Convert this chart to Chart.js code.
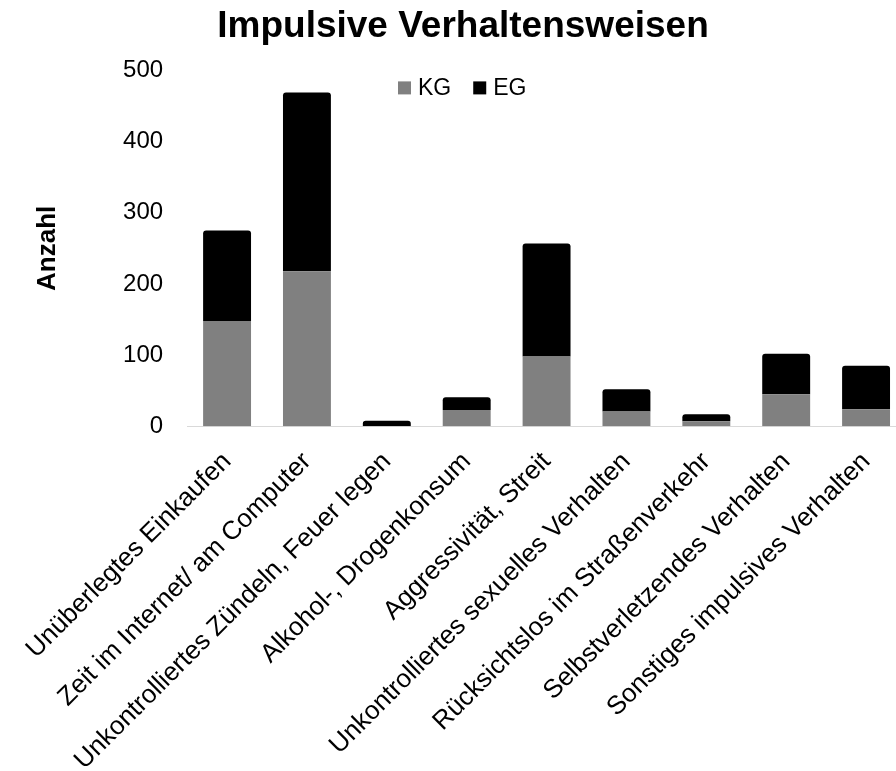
<!DOCTYPE html>
<html lang="de">
<head>
<meta charset="utf-8">
<title>Impulsive Verhaltensweisen</title>
<script src="https://cdn.jsdelivr.net/npm/chart.js@4/dist/chart.umd.min.js"></script>
<style>
  html, body { margin: 0; padding: 0; background: #fff; }
  #wrap { width: 896px; height: 771px; position: relative; }
</style>
</head>
<body>
<div id="wrap"><canvas id="chart"></canvas></div>
<script>
// Kategorien der impulsiven Verhaltensweisen
const categories = [
  'Unüberlegtes Einkaufen',
  'Zeit im Internet/ am Computer',
  'Unkontrolliertes Zündeln, Feuer legen',
  'Alkohol-, Drogenkonsum',
  'Aggressivität, Streit',
  'Unkontrolliertes sexuelles Verhalten',
  'Rücksichtslos im Straßenverkehr',
  'Selbstverletzendes Verhalten',
  'Sonstiges impulsives Verhalten'
];

// Anzahl Nennungen je Gruppe
const kgValues = [148, 218, 0, 23, 98, 21, 7, 45, 24];
const egValues = [127, 251, 8, 18, 159, 31, 10, 57, 61];

const seriesNames = ['KG', 'EG'];
const yTicks = [0, 100, 200, 300, 400, 500];

const FONT = '"Liberation Sans", Arial, Helvetica, sans-serif';

// Zeichenfläche läuft rechts über den Canvasrand hinaus
const bleedRight = {
  id: 'bleedRight',
  afterLayout(chart) {
    const extra = 10;
    const xs = chart.scales.x;
    xs.right += extra;
    xs.width += extra;
    xs.configure();
    chart.chartArea.right += extra;
    chart.chartArea.width += extra;
  }
};

// Legende innerhalb der Zeichenfläche
const innerLegend = {
  id: 'innerLegend',
  afterDraw(chart) {
    const ctx = chart.ctx;
    const area = chart.chartArea;
    const y = area.top + 17;
    let x = 398;
    ctx.save();
    ctx.font = '23px ' + FONT;
    ctx.textBaseline = 'middle';
    ctx.textAlign = 'left';
    chart.data.datasets.forEach(ds => {
      ctx.fillStyle = ds.backgroundColor;
      ctx.fillRect(x, y - 6, 13, 13);
      x += 20;
      ctx.fillStyle = '#000';
      ctx.fillText(ds.label, x, y + 1);
      x += ctx.measureText(ds.label).width + 22;
    });
    ctx.restore();
  }
};

new Chart(document.getElementById('chart'), {
  type: 'bar',
  data: {
    labels: categories,
    datasets: [
      { label: seriesNames[0], data: kgValues, backgroundColor: '#808080', borderSkipped: 'bottom', barPercentage: 0.6, categoryPercentage: 1 },
      { label: seriesNames[1], data: egValues, backgroundColor: '#000000', borderRadius: 3, borderSkipped: 'bottom', barPercentage: 0.6, categoryPercentage: 1 }
    ]
  },
  options: {
    responsive: true,
    maintainAspectRatio: false,
    animation: false,
    layout: { padding: { left: 30, right: 0, top: 0, bottom: 0 } },
    plugins: {
      legend: { display: false },
      tooltip: { enabled: false },
      title: {
        display: true,
        text: 'Impulsive Verhaltensweisen',
        color: '#000',
        font: { family: FONT, size: 37, weight: 'bold' },
        padding: { top: 5, bottom: 21 }
      }
    },
    scales: {
      x: {
        stacked: true,
        grid: { display: false, drawTicks: false },
        border: { display: true, color: '#d9d9d9', width: 1 },
        ticks: {
          color: '#000',
          font: { family: FONT, size: 26 },
          minRotation: 45,
          maxRotation: 45,
          autoSkip: false,
          padding: 20
        },
        afterFit(scale) { scale.height -= 25; scale.paddingRight = 0; }
      },
      y: {
        stacked: true,
        min: 0,
        max: 500,
        grid: { display: false, drawTicks: false },
        border: { display: false },
        afterBuildTicks(scale) { scale.ticks = yTicks.map(v => ({ value: v })); },
        ticks: {
          color: '#000',
          font: { family: FONT, size: 24 },
          padding: 24
        },
        title: {
          display: true,
          text: 'Anzahl',
          color: '#000',
          font: { family: FONT, size: 26, weight: 'bold' },
          padding: 0
        },
        afterFit(scale) { scale.width = 155; }
      }
    }
  },
  plugins: [bleedRight, innerLegend]
});
</script>
</body>
</html>
